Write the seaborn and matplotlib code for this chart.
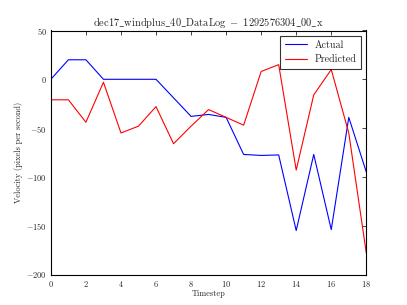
import matplotlib
matplotlib.use("Agg")
import matplotlib.pyplot as plt
import seaborn as sns
import pandas as pd

# data
timestep = list(range(19))
actual = [0, 20, 20, 0, 0, 0, 0, -19, -38, -36, -39, -77, -78, -77.5, -155, -77, -154, -39, -95]
predicted = [-21, -21, -44, -3, -55, -48, -28, -66, -48, -31, -39, -47, 8, 15, -93, -16, 10, -55, -178]

sns.set_style("white")
plt.rcParams['font.family'] = ['serif']
plt.rcParams['font.serif'] = ['cmr10', 'DejaVu Serif']
plt.rcParams['mathtext.fontset'] = 'cm'
plt.rcParams['axes.formatter.use_mathtext'] = True
plt.rcParams['axes.unicode_minus'] = True

df = pd.DataFrame({
    'Timestep': timestep * 2,
    'Velocity': actual + predicted,
    'series': ['Actual'] * len(actual) + ['Predicted'] * len(predicted),
})

fig = plt.figure(figsize=(4.07, 3.05), dpi=100)
ax = fig.add_axes([0.125, 0.1, 0.775, 0.8])
sns.lineplot(data=df, x='Timestep', y='Velocity', hue='series',
             palette={'Actual': 'blue', 'Predicted': 'red'}, linewidth=0.8, ax=ax)

ax.set_xlim(0, 18)
ax.set_ylim(-200, 50)
ax.set_xticks(range(0, 19, 2))
ax.set_yticks(range(-200, 51, 50))
ax.tick_params(direction='in', top=True, right=True, labelsize=6, length=3, width=0.6, pad=3)
for s in ax.spines.values():
    s.set_color('black')
    s.set_linewidth(0.8)

ax.set_title(r'$\mathrm{dec17\_windplus\_40\_DataLog}\ -\ \mathrm{1292576304\_00\_x}$',
             fontsize=7.5, pad=3)
ax.set_xlabel('Timestep', fontsize=6, labelpad=1)
ax.set_ylabel('Velocity (pixels per second)', fontsize=6, labelpad=2)
leg = ax.legend(loc='upper right', fontsize=7.2, frameon=True, fancybox=False,
                edgecolor='black', handlelength=2.2, borderpad=0.45)
leg.get_frame().set_linewidth(0.8)
leg.set_title(None)

fig.savefig('out.png', dpi=100)
